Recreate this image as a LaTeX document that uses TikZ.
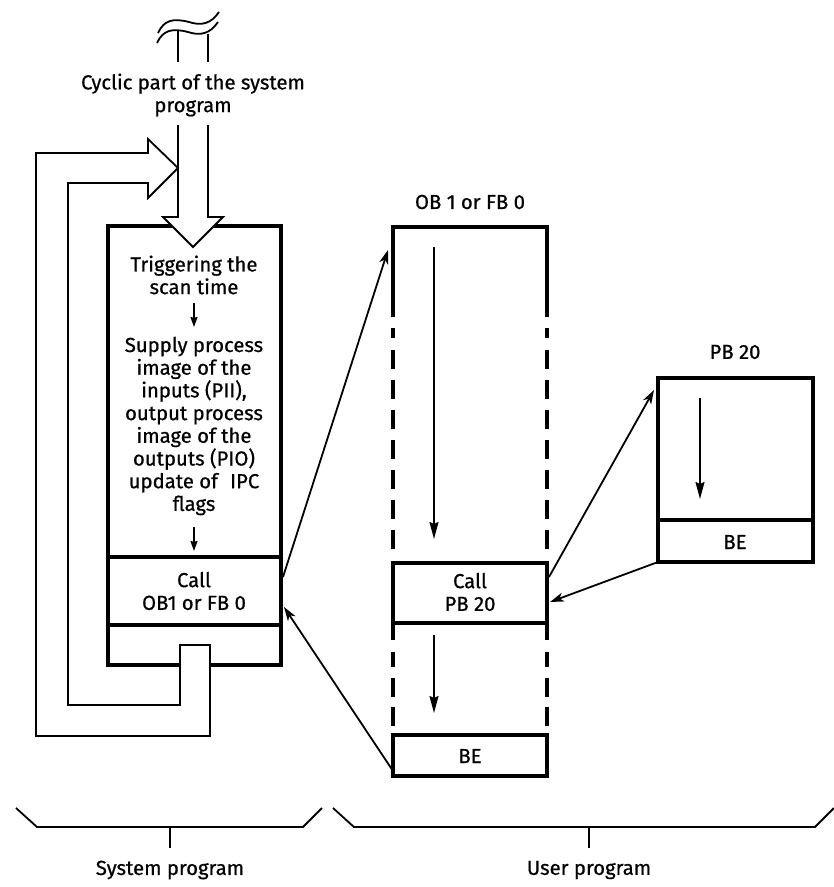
\documentclass[tikz,border=0pt]{standalone}
\usepackage{fontspec}
\setmainfont{Fira Sans}[FakeBold=0.7]
\usetikzlibrary{arrows.meta}
\begin{document}
\begin{tikzpicture}[x=1pt,y=-1pt,
  thickline/.style={line width=4pt},
  thinline/.style={line width=1.8pt},
  conn/.style={line width=1.8pt,-{Stealth[length=14pt,width=9pt,inset=4pt]}},
  longarr/.style={line width=1.6pt,-{Stealth[length=17pt,width=9pt,inset=2pt]}},
  smallarr/.style={line width=1.8pt,-{Stealth[length=10pt,width=7pt,inset=1pt]}},
  lbl/.style={font=\fontsize{20.3}{22.7}\selectfont, align=center, inner sep=0pt},
]
\useasboundingbox (0,0) rectangle (834,887);

% ---------- system box ----------
\draw[thickline] (180,665) -- (108,665) -- (108,226) -- (281,226) -- (281,665) -- (210,665);
\draw[thickline] (108,557) -- (281,557);
\draw[thickline] (108,625) -- (281,625);

% loop (return to cyclic part)
\draw[thinline,fill=white,line join=miter]
  (148,153) -- (148,139) -- (178,168) -- (148,198) -- (148,183) -- (68,183)
  -- (68,705) -- (180,705) -- (180,645) -- (210,645) -- (210,736) -- (36,736)
  -- (36,153) -- cycle;

% hollow arrow from the top
\draw[thinline] (158,33) .. controls (164,20) and (173,18) .. (189,22)
  .. controls (201,26) and (211,24) .. (219,12);
\draw[thinline] (157,43) .. controls (163,30) and (172,28) .. (188,32)
  .. controls (200,36) and (210,34) .. (218,22);
\draw[thinline] (178,31) -- (178,62);
\draw[thinline] (208,34) -- (208,62);
\draw[thinline,fill=white,line join=miter]
  (178,125) -- (178,217) -- (163,217) -- (193,247) -- (223,217) -- (208,217) -- (208,125);

\node[lbl] (cyc) at (193,95) {Cyclic part of the system\\program};
\node[lbl] (trig) at (194,275) {Triggering the\\scan time};
\node[lbl] (supply) at (194,426) {Supply process\\image of the\\inputs (PII),\\output process\\image of the\\outputs (PIO)\\update of\hspace{0.6em}IPC\\flags};
\node[lbl] (call1) at (194,591) {Call\\OB1 or FB 0};

\coordinate (a1s) at (194,303);
\coordinate (a1e) at (194,327);
\coordinate (a2s) at (194,527);
\coordinate (a2e) at (194,551);
\draw[smallarr] (a1s) -- (a1e);
\draw[smallarr] (a2s) -- (a2e);

% ---------- OB1 column ----------
\node[lbl] (ob1) at (470,202) {OB 1 or FB 0};
\draw[thickline] (393,317) -- (393,227) -- (547,227) -- (547,317);
\foreach \xx in {393,547} {
  \draw[thickline] (\xx,328) -- (\xx,338);
  \foreach \a in {350,380,...,530} { \draw[thickline] (\xx,\a) -- (\xx,\a+19); }
  \draw[thickline] (\xx,623) -- (\xx,640);
  \draw[thickline] (\xx,652) -- (\xx,667);
  \draw[thickline] (\xx,678) -- (\xx,697);
  \draw[thickline] (\xx,707) -- (\xx,726);
}
\draw[thickline] (393,563) rectangle (547,623);
\node[lbl] (callpb) at (470,592) {Call\\PB 20};
\draw[thickline] (393,735) rectangle (547,776);
\node[lbl] (be1) at (470,756) {BE};
\coordinate (o1s) at (434,247);
\coordinate (o1e) at (434,539);
\coordinate (o2s) at (434,635);
\coordinate (o2e) at (434,713);
\draw[longarr] (o1s) -- (o1e);
\draw[longarr] (o2s) -- (o2e);

% ---------- PB 20 ----------
\node[lbl] (pb) at (735,352) {PB 20};
\draw[thickline] (658,378) rectangle (813,562);
\draw[thickline] (658,520) -- (813,520);
\node[lbl] (be2) at (735,542) {BE};
\coordinate (p1s) at (700,398);
\coordinate (p1e) at (700,499);
\draw[longarr] (p1s) -- (p1e);

% ---------- connectors ----------
\coordinate (sysout) at (283,577);
\coordinate (ob1in) at (388,250);
\coordinate (beout) at (393,771);
\coordinate (sysin) at (284,607);
\coordinate (pbcall) at (549,577);
\coordinate (pbin) at (654,390);
\coordinate (pbout) at (658,562);
\coordinate (pbret) at (550,602);
\draw[conn] (sysout) -- (ob1in);
\draw[conn] (beout) -- (sysin);
\draw[conn] (pbcall) -- (pbin);
\draw[conn] (pbout) -- (pbret);

% ---------- braces ----------
\draw[thinline] (16,808) -- (37,827) -- (303,827) -- (322,808);
\draw[thinline] (170,827) -- (170,848);
\draw[thinline] (333,808) -- (354,827) -- (815,827) -- (834,808);
\draw[thinline] (589,827) -- (589,848);
\node[lbl] (sysl) at (170,870) {System program};
\node[lbl] (usrl) at (589,870) {User program};
\end{tikzpicture}
\end{document}
